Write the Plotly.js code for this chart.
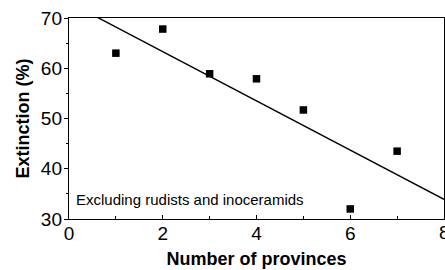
<!DOCTYPE html>
<html><head><meta charset="utf-8">
<script src="https://cdn.plot.ly/plotly-3.0.1.min.js"></script>
<style>html,body{margin:0;padding:0;background:#fff}#c{width:445px;height:270px}</style>
</head><body><div id="c"></div>
<script>
var provinces = [1, 2, 3, 4, 5, 6, 7];
var extinction = [63.0, 67.8, 58.9, 57.9, 51.7, 32.0, 43.5];
var fitX = [0, 8];
var fitY = [73.1, 33.9];
var xTicks = [0, 2, 4, 6, 8];
var yTicks = [30, 40, 50, 60, 70];
var note = 'Excluding rudists and inoceramids';

var font = 'Liberation Sans, Arial, Helvetica, sans-serif';
var data = [
  {x: fitX, y: fitY, mode: 'lines', line: {color: '#000', width: 1.4}, hoverinfo: 'skip'},
  {x: provinces, y: extinction, mode: 'markers', marker: {symbol: 'square', size: 7.5, color: '#000'}}
];
var layout = {
  width: 445, height: 270,
  margin: {l: 69, r: 1, t: 18, b: 51},
  showlegend: false,
  paper_bgcolor: '#fff', plot_bgcolor: '#fff',
  font: {family: font, color: '#000'},
  xaxis: {
    range: [0, 8], tickvals: xTicks, ticktext: xTicks.map(String),
    ticks: 'inside', ticklen: 4, tickcolor: '#000', tickwidth: 1,
    minor: {dtick: 1, ticks: 'inside', ticklen: 3, tickcolor: '#000'},
    showline: true, linecolor: '#000', linewidth: 1.2, mirror: true,
    showgrid: false, zeroline: false,
    tickfont: {size: 19, family: font},
    ticklabelstandoff: -3,
    title: {text: '<b>Number of provinces</b>', font: {size: 18, family: font}, standoff: 9}
  },
  yaxis: {
    range: [30, 70], tickvals: yTicks, ticktext: yTicks.map(String),
    ticks: 'outside', ticklen: 4, tickcolor: '#000', tickwidth: 1,
    minor: {dtick: 5, ticks: 'outside', ticklen: 2, tickcolor: '#000'},
    showline: true, linecolor: '#000', linewidth: 1.2, mirror: true,
    showgrid: false, zeroline: false,
    tickfont: {size: 19, family: font},
    ticklabelstandoff: -2,
    title: {text: '<b>Extinction (%)</b>', font: {size: 18, family: font}, standoff: 6}
  },
  annotations: [{
    xref: 'x', yref: 'y', x: 0.1, y: 33.8, xanchor: 'left', yanchor: 'middle',
    text: note, showarrow: false, font: {size: 15, family: font, color: '#000'}
  }, {
    xref: 'x', yref: 'paper', x: 8, y: 0, xanchor: 'center', yanchor: 'top', yshift: -1,
    text: '8', showarrow: false, font: {size: 19, family: font, color: '#000'}
  }]
};
Plotly.newPlot('c', data, layout, {staticPlot: true, displayModeBar: false});
</script></body></html>
